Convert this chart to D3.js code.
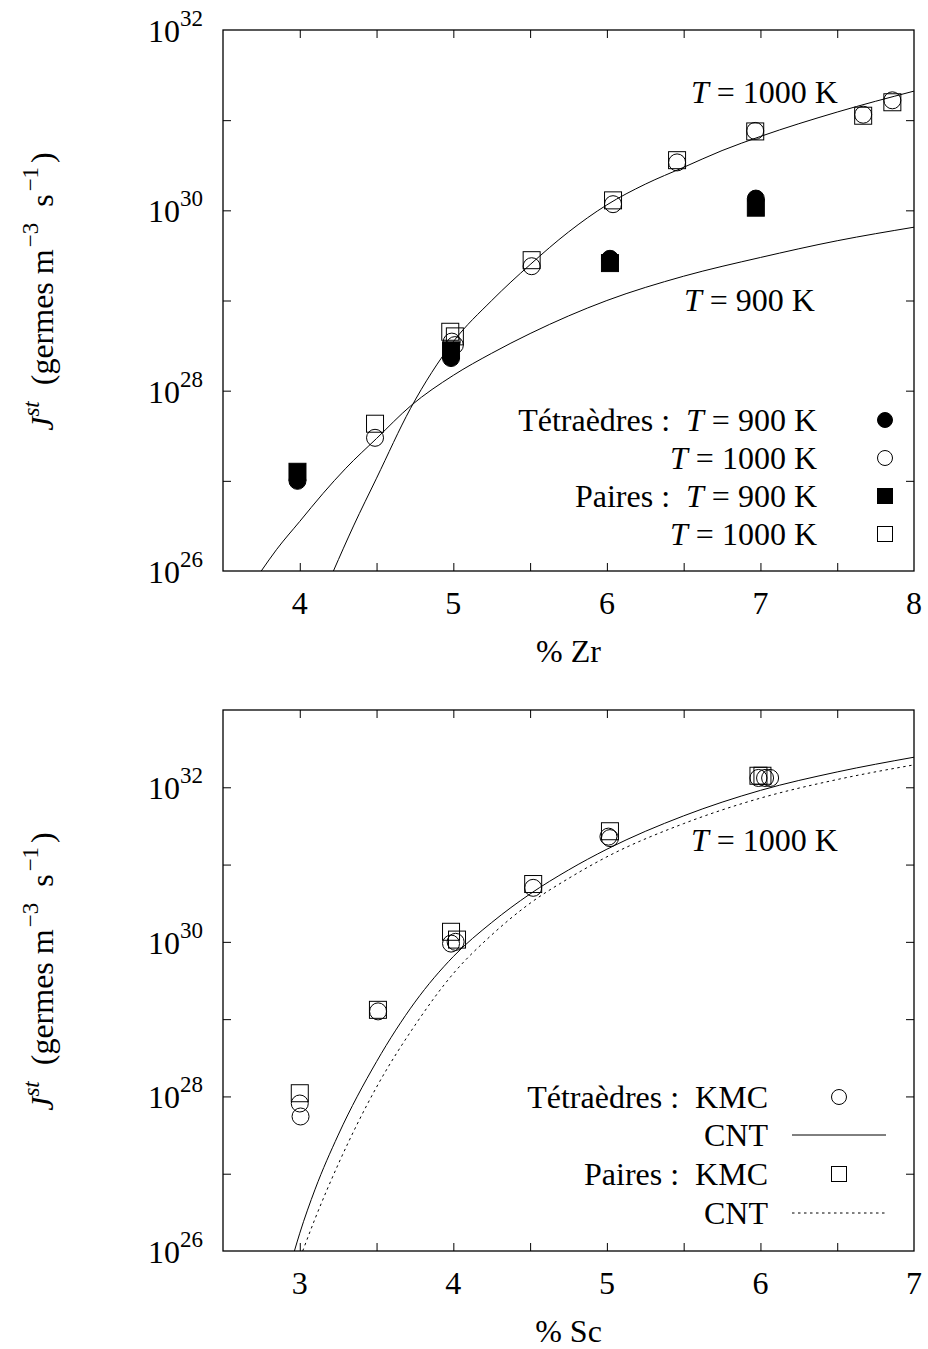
<!DOCTYPE html>
<html><head><meta charset="utf-8">
<script src="https://cdn.jsdelivr.net/npm/d3@7"></script>
<style>
body{margin:0;background:#fff}
svg text{font-family:"Liberation Serif","Times New Roman",serif;fill:#000;white-space:pre}
</style>
</head><body>
<svg id="c" width="928" height="1349"></svg>
<script>
// ---------- Top panel (% Zr) ----------
const zrTet900 = [[3.985,1.0e27],[4.985,2.3e28],[6.02,2.9e29],[6.97,1.35e30]];
const zrPairs900 = [[3.985,1.26e27],[4.985,2.8e28],[6.02,2.6e29],[6.97,1.07e30]];
const zrTet1000 = [[4.49,3.0e27],[4.99,3.5e28],[5.01,3.2e28],[5.51,2.4e29],[6.04,1.17e30],[6.457,3.4e30],[6.966,7.6e30],[7.669,1.15e31],[7.859,1.66e31]];
const zrPairs1000 = [[4.49,4.3e27],[4.98,4.5e28],[5.01,4.0e28],[5.51,2.8e29],[6.04,1.29e30],[6.457,3.6e30],[6.966,7.5e30],[7.669,1.12e31],[7.859,1.58e31]];
const zrCnt1000 = [[4.219,1e26],[4.35,3.16e26],[4.5,1.07e27],[4.72,6.3e27],[5.0,3.5e28],[5.25,1.0e29],[5.5,2.5e29],[5.75,5.75e29],[6.0,1.15e30],[6.25,1.95e30],[6.5,3.0e30],[6.75,4.6e30],[7.0,6.6e30],[7.5,1.23e31],[8.0,2.1e31]];
const zrCnt900 = [[3.749,1e26],[3.85,1.74e26],[4.0,3.55e26],[4.15,7.2e26],[4.3,1.38e27],[4.5,2.95e27],[4.723,6.8e27],[5.0,1.48e28],[5.25,2.6e28],[5.5,4.3e28],[6.0,1.0e29],[6.5,1.86e29],[7.0,3.0e29],[7.5,4.6e29],[8.0,6.5e29]];
const zrXTicks = [4,4.5,5,5.5,6,6.5,7,7.5];
const zrXLabels = [4,5,6,7,8];
const zrYTicks = [1e27,1e28,1e29,1e30,1e31];
const zrYLabels = [26,28,30,32];

// ---------- Bottom panel (% Sc) ----------
const scTetKMC = [[3.0,8.1e27],[3.005,5.5e27],[3.51,1.26e29],[3.985,9.5e29],[4.015,1.0e30],[4.52,5.0e30],[5.01,2.3e31],[5.02,2.2e31],[5.987,1.32e32],[6.03,1.32e32],[6.063,1.32e32]];
const scPairsKMC = [[3.0,1.1e28],[3.509,1.32e29],[3.985,1.35e30],[4.024,1.07e30],[4.52,5.6e30],[5.02,2.7e31],[5.987,1.41e32],[6.013,1.41e32]];
const scCntTet = [[2.965,1e26],[3.0,1.70e26],[3.1,6.31e26],[3.25,3.16e27],[3.5,2.82e28],[3.75,1.66e29],[4.0,6.46e29],[4.25,1.78e30],[4.5,4.17e30],[4.75,8.51e30],[5.0,1.58e31],[5.5,4.27e31],[6.0,9.12e31],[6.5,1.58e32],[7.0,2.45e32]];
const scCntPairs = [[3.019,1e26],[3.1,2.63e26],[3.25,1.32e27],[3.5,1.32e28],[3.75,8.32e28],[4.0,3.89e29],[4.25,1.23e30],[4.5,3.16e30],[4.75,6.61e30],[5.0,1.26e31],[5.5,3.39e31],[6.0,7.24e31],[6.5,1.26e32],[7.0,1.95e32]];
const scXTicks = [3,3.5,4,4.5,5,5.5,6,6.5];
const scXLabels = [3,4,5,6,7];
const scYTicks = [1e27,1e28,1e29,1e30,1e31,1e32];
const scYLabels = [26,28,30,32];

const FS = 32, SFS = 23;
const svg = d3.select("#c");

function panel(cfg){
  const {xDom, yDom, top, bottom, left, right, id} = cfg;
  const x = d3.scaleLinear(xDom, [left, right]);
  const y = d3.scaleLog(yDom, [bottom, top]);
  const g = svg.append("g");
  g.append("clipPath").attr("id", id).append("rect")
    .attr("x", left).attr("y", top).attr("width", right-left).attr("height", bottom-top);

  const tk = (sel) => { sel.select(".domain").remove(); sel.selectAll("line").attr("stroke","#000").attr("stroke-width",1); sel.selectAll("text").remove(); };
  g.append("g").attr("transform",`translate(0,${bottom})`).call(d3.axisBottom(x).tickValues(cfg.xTicks).tickSize(-8)).call(tk);
  g.append("g").attr("transform",`translate(0,${top})`).call(d3.axisTop(x).tickValues(cfg.xTicks).tickSize(-8)).call(tk);
  g.append("g").attr("transform",`translate(${left},0)`).call(d3.axisLeft(y).tickValues(cfg.yTicks).tickSize(-8)).call(tk);
  g.append("g").attr("transform",`translate(${right},0)`).call(d3.axisRight(y).tickValues(cfg.yTicks).tickSize(-8)).call(tk);

  g.append("rect").attr("x", left).attr("y", top).attr("width", right-left).attr("height", bottom-top)
    .attr("fill","none").attr("stroke","#000").attr("stroke-width",1.3);

  g.selectAll(".xl").data(cfg.xLabels).join("text")
    .attr("x", d => x(d)).attr("y", bottom + 43).attr("text-anchor","middle")
    .attr("font-size", FS).text(d => d);
  cfg.yLabels.forEach(e => {
    const t = g.append("text").attr("x", left - 20).attr("y", y(Math.pow(10,e)) + 12)
      .attr("text-anchor","end").attr("font-size", FS);
    t.append("tspan").text("10");
    t.append("tspan").attr("dy", -16).attr("font-size", SFS).text(e);
  });
  g.append("text").attr("x", (left+right)/2).attr("y", bottom + 91).attr("text-anchor","middle")
    .attr("font-size", FS).text(cfg.xTitle);
  const yt = g.append("text").attr("transform", `translate(53,${(top+bottom)/2 - 9}) rotate(-90)`)
    .attr("text-anchor","middle").attr("font-size", FS);
  yt.append("tspan").attr("font-style","italic").text("J");
  yt.append("tspan").attr("font-style","italic").attr("font-size", SFS).attr("dy",-14).text("st");
  yt.append("tspan").attr("dy",14).text("  (germes m");
  yt.append("tspan").attr("font-size", SFS).attr("dy",-15).attr("dx",2).text("\u22123");
  yt.append("tspan").attr("dy",15).text("  s");
  yt.append("tspan").attr("font-size", SFS).attr("dy",-15).attr("dx",3).text("\u22121");
  yt.append("tspan").attr("dy",15).attr("dx",4).text(")");

  const plot = g.append("g").attr("clip-path", `url(#${id})`);
  const line = d3.line().x(d => x(d[0])).y(d => y(d[1])).curve(d3.curveMonotoneX);
  return {x, y, g, plot, line};
}

function curve(P, data, dash){
  P.plot.append("path").datum(data).attr("d", P.line).attr("fill","none")
    .attr("stroke","#000").attr("stroke-width",1).attr("stroke-dasharray", dash || null);
}
function circles(P, data, filled, r){
  P.plot.selectAll(null).data(data).join("circle")
    .attr("cx", d => P.x(d[0])).attr("cy", d => P.y(d[1])).attr("r", r || 8.5)
    .attr("fill", filled ? "#000" : "none").attr("stroke","#000").attr("stroke-width",1);
}
function squares(P, data, filled, s){
  s = s || 17;
  P.plot.selectAll(null).data(data).join("rect")
    .attr("x", d => P.x(d[0]) - s/2).attr("y", d => P.y(d[1]) - s/2).attr("width", s).attr("height", s)
    .attr("fill", filled ? "#000" : "none").attr("stroke","#000").attr("stroke-width",1);
}
function tLabel(g, x, y, val, anchor){
  const t = g.append("text").attr("x", x).attr("y", y).attr("font-size", FS).attr("text-anchor", anchor || "start");
  t.append("tspan").attr("font-style","italic").text("T");
  t.append("tspan").text(" = " + val + " K");
  return t;
}

// ===== Top panel =====
const A = panel({id:"clipA", xDom:[3.5,8], yDom:[1e26,1e32], top:30, bottom:571, left:223, right:914,
  xTicks: zrXTicks, xLabels: zrXLabels, yTicks: zrYTicks, yLabels: zrYLabels, xTitle:"% Zr"});
curve(A, zrCnt1000);
curve(A, zrCnt900);
circles(A, zrTet900, true);
circles(A, zrTet1000, false);
squares(A, zrPairs900, true);
squares(A, zrPairs1000, false);
tLabel(A.g, 691, 103, "1000");
tLabel(A.g, 684, 311, "900");

const legA = [
  {pre:"Tétraèdres :  ", val:"900", sym:"fc"},
  {pre:"", val:"1000", sym:"oc"},
  {pre:"Paires :  ", val:"900", sym:"fs"},
  {pre:"", val:"1000", sym:"os"}
];
const legAY = [420, 458, 496, 534];
legA.forEach((d,i) => {
  const yy = legAY[i];
  const t = A.g.append("text").attr("x", 817).attr("y", yy + 11).attr("font-size", FS).attr("text-anchor","end");
  if (d.pre) t.append("tspan").text(d.pre);
  t.append("tspan").attr("font-style","italic").text("T");
  t.append("tspan").text(" = " + d.val + " K");
  if (d.sym[1] === "c") A.g.append("circle").attr("cx",885).attr("cy",yy).attr("r",7.5)
      .attr("fill", d.sym[0]==="f" ? "#000" : "none").attr("stroke","#000");
  else A.g.append("rect").attr("x",885-7.5).attr("y",yy-7.5).attr("width",15).attr("height",15)
      .attr("fill", d.sym[0]==="f" ? "#000" : "none").attr("stroke","#000");
});

// ===== Bottom panel =====
const B = panel({id:"clipB", xDom:[2.5,7], yDom:[1e26,1e33], top:710, bottom:1251, left:223, right:914,
  xTicks: scXTicks, xLabels: scXLabels, yTicks: scYTicks, yLabels: scYLabels, xTitle:"% Sc"});
curve(B, scCntTet);
curve(B, scCntPairs, "2.5,3.5");
circles(B, scTetKMC, false);
squares(B, scPairsKMC, false);
tLabel(B.g, 691, 851, "1000");

const legBY = [1097, 1135, 1174, 1213];
const legB = [["Tétraèdres :  KMC","oc"],["CNT","solid"],["Paires :  KMC","os"],["CNT","dash"]];
legB.forEach((d,i) => {
  const yy = legBY[i];
  B.g.append("text").attr("x", 768).attr("y", yy + 11).attr("font-size", FS).attr("text-anchor","end").text(d[0]);
  if (d[1] === "oc") B.g.append("circle").attr("cx",839).attr("cy",yy).attr("r",7.5).attr("fill","none").attr("stroke","#000");
  else if (d[1] === "os") B.g.append("rect").attr("x",839-7.5).attr("y",yy-7.5).attr("width",15).attr("height",15).attr("fill","none").attr("stroke","#000");
  else B.g.append("line").attr("x1",792).attr("x2",886).attr("y1",yy).attr("y2",yy).attr("stroke","#000")
      .attr("stroke-dasharray", d[1]==="dash" ? "2.5,3.5" : null);
});
</script>
</body></html>
